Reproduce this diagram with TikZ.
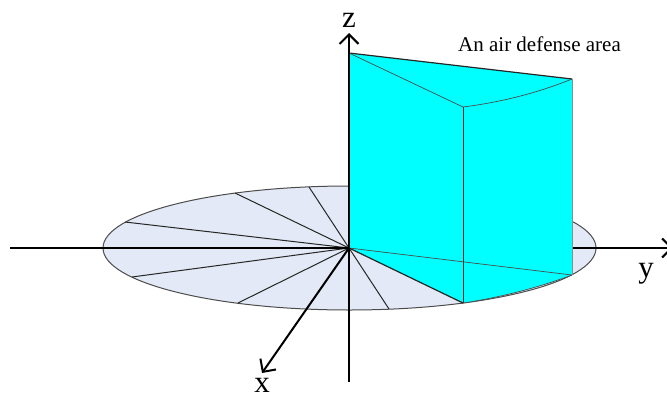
\documentclass[tikz,border=0pt]{standalone}
\usepackage{fontspec}
\setmainfont{Liberation Serif}
\usetikzlibrary{arrows.meta}
\definecolor{discfill}{HTML}{E3E9F6}
\definecolor{areafill}{HTML}{00FFFF}
\begin{document}
\begin{tikzpicture}[
	x=1pt, y=-1pt,
	axis/.style={line width=2pt, ->},
	spoke/.style={line width=1pt, draw=black!85},
	thinedge/.style={line width=0.7pt, draw=black!70},
	lab/.style={font=\fontsize{31}{31}\selectfont, inner sep=0pt},
	>={Straight Barb[length=9.5pt, width=19pt, line width=2pt]}
	]
	\useasboundingbox (0,0) rectangle (667,399);
	\clip (0,0) rectangle (667,399);
	% Punti di base
	\coordinate (o) at (349,248);
	\coordinate (yleft) at (10,248);
	\coordinate (yright) at (673,248);
	\coordinate (zlow) at (349,382);
	\coordinate (ztop) at (349,33);
	\coordinate (xtip) at (262,373);
	
	% Disco
	\draw[thinedge, line width=1pt, fill=discfill] (349.5,248) ellipse [x radius=246.5, y radius=62];
	
	% Raggi del disco
	\foreach \px/\py in {125/222, 235/193, 309/187, 132/277, 238/303, 389/309}
		\draw[spoke] (o) -- (\px,\py);
	
	% Assi
	\draw[axis] (yleft) -- (yright);
	\draw[axis] (o) -- (xtip);
	
	% Area di difesa
	\coordinate (topa) at (349,53);
	\coordinate (topb) at (463,107);
	\coordinate (topc) at (572,79);
	\coordinate (bota) at (463,303);
	\coordinate (botb) at (572,275);
	\fill[areafill] (o) -- (topa) -- (topc) -- (botb) .. controls (540,287) and (503,297) .. (bota) -- cycle;
	\draw[line width=1.2pt, draw=black!85] (topa) -- (topc);
	\draw[thinedge] (topa) -- (topb);
	\draw[thinedge] (topb) .. controls (503,102) and (540,92) .. (topc);
	\draw[thinedge, draw=black!45] (topc) -- (botb);
	\draw[line width=1pt, draw=black!85] (topb) -- (bota);
	\draw[thinedge] (o) -- (botb);
	\draw[line width=1.2pt, draw=black!85] (o) -- (bota);
	\draw[thinedge] (bota) .. controls (503,297) and (540,287) .. (botb);
	
	% Asse z sopra l'area
	\draw[axis] (zlow) -- (ztop);
	
	% Etichette
	\node[lab] (zlabel) at (349,20) {z};
	\node[lab] (ylabel) at (646,274) {y};
	\node[lab] (xlabel) at (262,385) {x};
	\node[font=\fontsize{21}{22}\selectfont, inner sep=0pt] (title) at (539.5,44) {An air defense area};
\end{tikzpicture}
\end{document}
